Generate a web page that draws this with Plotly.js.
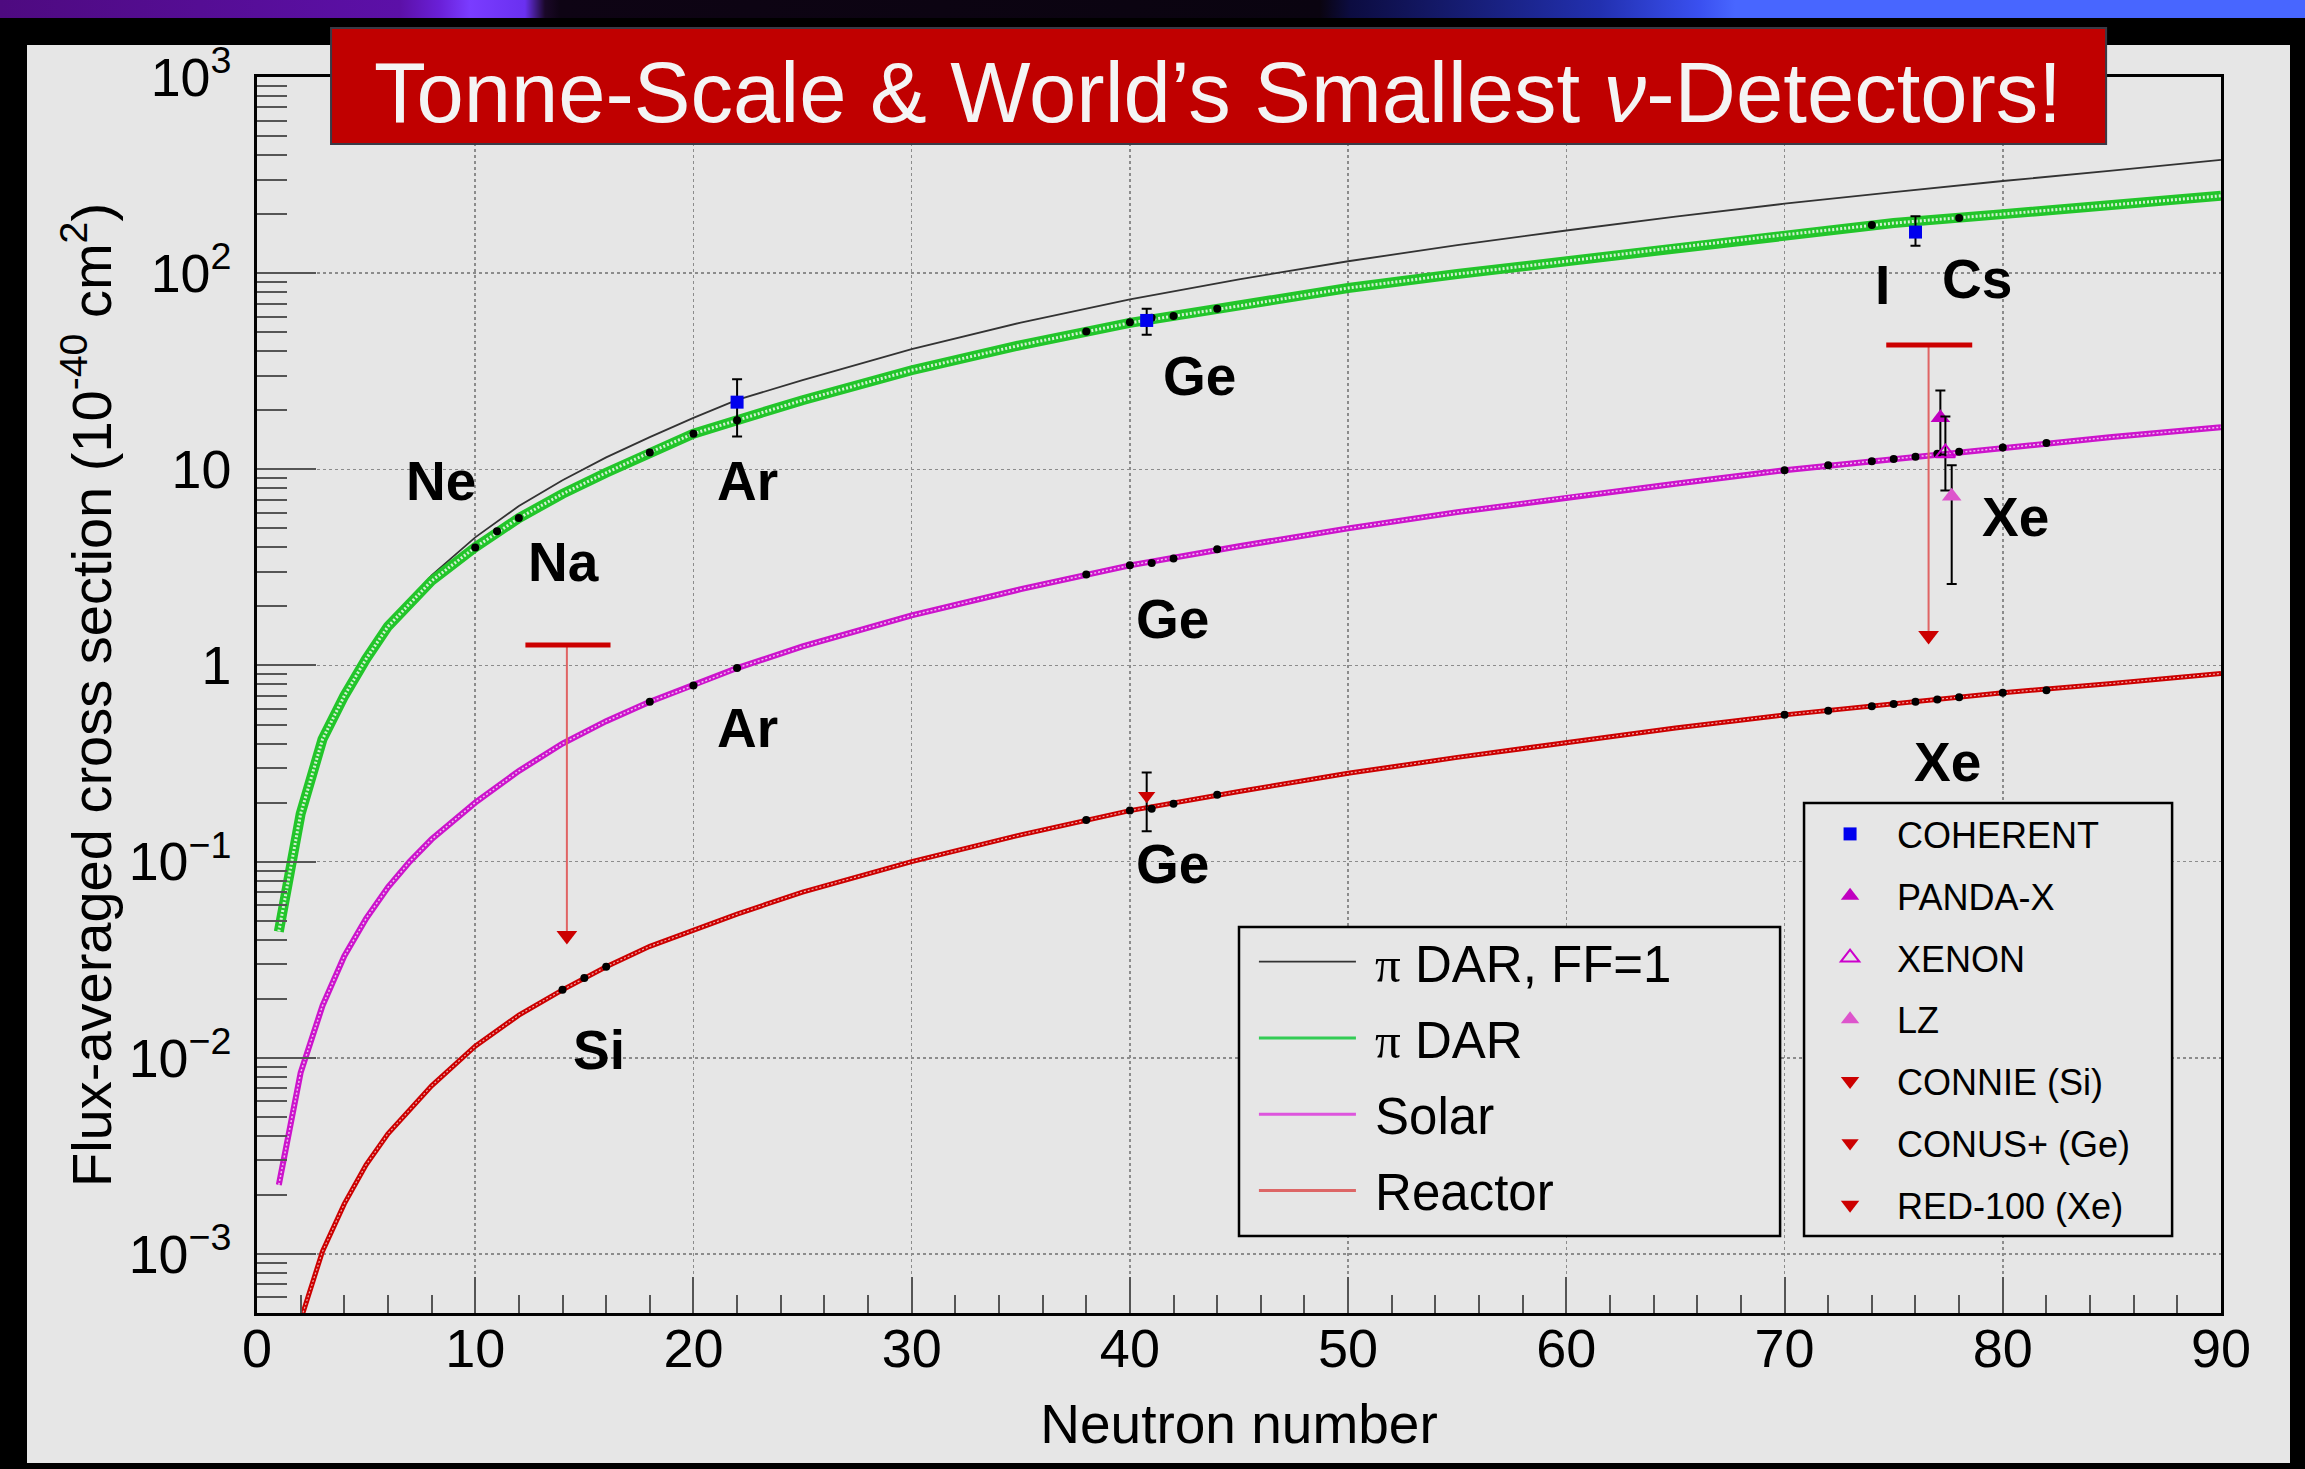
<!DOCTYPE html>
<html>
<head>
<meta charset="utf-8">
<script src="https://cdn.plot.ly/plotly-3.0.1.min.js"></script>
<style>
html,body{margin:0;padding:0;background:#000;}
body{width:2305px;height:1469px;overflow:hidden;position:relative;}
#band{position:absolute;left:0;top:0;width:2305px;height:18px;background:linear-gradient(to right,#4e0a80 0px,#5c10a8 400px,#6a20d8 440px,#7a3cff 470px,#6a30f0 525px,#1a0828 545px,#0e0414 560px,#0a0410 1320px,#0c0c40 1350px,#2230b0 1600px,#3a50f0 1700px,#4866ff 1735px,#4866ff 2305px);}
#panel{position:absolute;left:27px;top:45px;width:2263px;height:1418px;background:#e6e6e6;}
#chart{position:absolute;left:0;top:0;width:2305px;height:1469px;}
</style>
</head>
<body>
<div id="band"></div>
<div id="panel"></div>
<div id="chart"></div>
<script>
// ---------------- data ----------------
const nFF1 = [1,2,3,4,5,6,8,10,12,14,16,18,20,22,25,30,35,40,45,50,55,60,65,70,75,80,85,90];
const sigFF1 = [0.046,0.18,0.41,0.72,1.12,1.62,2.88,4.5,6.5,8.8,11.5,14.6,18.3,22.6,28.5,41,56,73.5,93,115,139,165,194,226,259,295,333,378];

const nDAR = [1,2,3,4,5,6,8,10,12,14,16,18,20,22,25,30,35,40,45,50,55,60,65,70,75,80,85,90];
const sigDAR = [0.044,0.175,0.42,0.70,1.08,1.58,2.7,4.0,5.64,7.5,9.6,12.2,15.2,17.8,22.5,32,43,55.8,68,84,99,115,135,157,180,200,222,248];

const nSolar = [1,2,3,4,5,6,7,8,10,12,14,16,18,20,22,25,30,35,40,45,50,55,60,65,70,75,80,85,90];
const sigSolar = [0.00225,0.0084,0.0184,0.033,0.0513,0.074,0.1,0.13,0.2,0.29,0.40,0.52,0.654,0.79,0.97,1.25,1.8,2.45,3.24,4.05,5.0,6.05,7.2,8.45,9.9,11.3,12.9,14.6,16.4];

const nReactor = [2,3,4,5,6,8,10,12,14,16,18,20,22,25,30,35,40,45,50,55,60,65,70,75,80,85,90];
const sigReactor = [0.00046,0.00103,0.0018,0.00285,0.0041,0.0072,0.01146,0.0165,0.0222,0.0291,0.037,0.0448,0.054,0.07,0.1,0.137,0.182,0.228,0.282,0.34,0.405,0.48,0.56,0.637,0.726,0.81,0.91];

// isotope points on the curves
const isoDarN = [10,11,12,18,20,22,38,40,41,42,44,74,78];
const isoDarY = [4.0,4.83,5.64,12.2,15.2,17.8,50.4,56.2,59.2,60.5,65.8,176,191];
const isoSolarN = [18,20,22,38,40,41,42,44,70,72,74,75,76,77,78,80,82];
const isoSolarY = [0.654,0.79,0.97,2.91,3.24,3.33,3.51,3.91,9.9,10.5,11.0,11.3,11.6,12.0,12.3,12.9,13.6];
const isoReacN = [14,15,16,38,40,41,42,44,70,72,74,75,76,77,78,80,82];
const isoReacY = [0.0222,0.0255,0.0291,0.163,0.182,0.186,0.197,0.219,0.56,0.587,0.62,0.637,0.653,0.671,0.689,0.726,0.748];

// measurements
const cohN = [22,40.77,76];
const cohY = [22.0,57.4,162];
const cohUp = [6.8,8.4,33];
const cohDn = [7.3,8.8,24];

const pandaN = [77.14], pandaY = [18.3], pandaUp = [6.9], pandaDn = [6.4];
const xenonN = [77.37], xenonY = [12.1], xenonUp = [6.5], xenonDn = [4.3];
const lzN = [77.66], lzY = [7.3], lzUp = [3.2], lzDn = [4.7];
const conusN = [40.77], conusY = [0.217], conusUp = [0.068], conusDn = [0.074];

// upper limits: CONNIE (Si), RED-100 (Xe)
const limN = [14.2, 76.6];
const limLo = [12.3, 74.66];
const limHi = [16.2, 78.6];
const limVal = [1.27, 43];
const limTip = [0.042, 1.42];

// element labels
const labels = ['Ne','Na','Ar','Ar','Ge','Ge','Ge','I','Cs','Xe','Xe','Si'];
const labelN = [8.45,14.06,22.48,22.48,43.2,41.95,41.97,74.5,78.8,80.59,77.46,15.66];
const labelY = [8.76,3.36,8.76,0.482,29.8,1.73,0.0969,86.9,92.9,5.71,0.321,0.011];

// ---------------- traces ----------------
const FONT = 'Liberation Sans, Arial, Helvetica, sans-serif';
const PI = '<span style="font-family:Liberation Serif, Times New Roman, serif">π</span>';
const SP = '\u00a0';

const traces = [];
// legend entries (thin lines, drawn first so the bands cover them)
traces.push({x:nFF1, y:sigFF1, mode:'lines', name:SP+PI+' DAR, FF=1', legend:'legend', legendgroup:'a1',
  line:{color:'#333333', width:1.8}});
traces.push({x:nDAR, y:sigDAR, mode:'lines', name:SP+PI+' DAR', legend:'legend', legendgroup:'a2',
  line:{color:'#33cc55', width:3}});
traces.push({x:nSolar, y:sigSolar, mode:'lines', name:SP+'Solar', legend:'legend', legendgroup:'a3',
  line:{color:'#dd55dd', width:3}});
traces.push({x:nReactor, y:sigReactor, mode:'lines', name:SP+'Reactor', legend:'legend', legendgroup:'a4',
  line:{color:'#dd6666', width:3}});

// bands
traces.push({x:nDAR, y:sigDAR, mode:'lines', showlegend:false, legend:'legend', legendgroup:'a2',
  line:{color:'#22c52a', width:10}});
traces.push({x:nDAR, y:sigDAR, mode:'lines', showlegend:false, legend:'legend', legendgroup:'a2',
  line:{color:'#d2f2d2', width:3, dash:'2px,2px'}});
traces.push({x:nSolar, y:sigSolar, mode:'lines', showlegend:false, legend:'legend', legendgroup:'a3',
  line:{color:'#cc14cc', width:6}});
traces.push({x:nSolar, y:sigSolar, mode:'lines', showlegend:false, legend:'legend', legendgroup:'a3',
  line:{color:'#f0bcf0', width:1.5, dash:'2px,2px'}});
traces.push({x:nReactor, y:sigReactor, mode:'lines', showlegend:false, legend:'legend', legendgroup:'a4',
  line:{color:'#cc0000', width:5}});
traces.push({x:nReactor, y:sigReactor, mode:'lines', showlegend:false, legend:'legend', legendgroup:'a4',
  line:{color:'#eeaaaa', width:1.2, dash:'2px,2px'}});

[[isoDarN,isoDarY],[isoSolarN,isoSolarY],[isoReacN,isoReacY]].forEach(function(p){
  traces.push({x:p[0], y:p[1], mode:'markers', showlegend:false, legend:'legend', legendgroup:'a4',
    marker:{color:'#000', size:8}});
});

// upper-limit bars and stems
const barX = [], barY = [], stemX = [], stemY = [];
limN.forEach(function(n,i){
  barX.push(limLo[i], limHi[i], null); barY.push(limVal[i], limVal[i], null);
  stemX.push(n, n, null); stemY.push(limVal[i], limTip[i], null);
});
traces.push({x:stemX, y:stemY, mode:'lines', showlegend:false, legend:'legend2', legendgroup:'b5',
  line:{color:'#e06464', width:2}});
traces.push({x:barX, y:barY, mode:'lines', showlegend:false, legend:'legend2', legendgroup:'b5',
  line:{color:'#cc0000', width:5}});

function err(up, dn){
  return {type:'data', symmetric:false, array:up, arrayminus:dn, color:'#000', thickness:2, width:5};
}
traces.push({x:cohN, y:cohY, mode:'markers', name:'COHERENT', legend:'legend2', legendgroup:'b1',
  marker:{symbol:'square', color:'#0000ee', size:13}, error_y:err(cohUp, cohDn)});
traces.push({x:pandaN, y:pandaY, mode:'markers', name:'PANDA-X', legend:'legend2', legendgroup:'b2',
  marker:{symbol:'triangle-up', color:'#c000c0', size:17}, error_y:err(pandaUp, pandaDn)});
traces.push({x:xenonN, y:xenonY, mode:'markers', name:'XENON', legend:'legend2', legendgroup:'b3',
  marker:{symbol:'triangle-up-open', color:'#cc00cc', size:17, line:{width:2, color:'#cc00cc'}}, error_y:err(xenonUp, xenonDn)});
traces.push({x:lzN, y:lzY, mode:'markers', name:'LZ', legend:'legend2', legendgroup:'b4',
  marker:{symbol:'triangle-up', color:'#dd55cc', size:17}, error_y:err(lzUp, lzDn)});
traces.push({x:[limN[0]], y:[limTip[0]], mode:'markers', name:'CONNIE (Si)', legend:'legend2', legendgroup:'b5',
  marker:{symbol:'triangle-down', color:'#cc0000', size:18}});
traces.push({x:conusN, y:conusY, mode:'markers', name:'CONUS+ (Ge)', legend:'legend2', legendgroup:'b6',
  marker:{symbol:'triangle-down', color:'#cc0000', size:15}, error_y:err(conusUp, conusDn)});
traces.push({x:[limN[1]], y:[limTip[1]], mode:'markers', name:'RED-100 (Xe)', legend:'legend2', legendgroup:'b7',
  marker:{symbol:'triangle-down', color:'#cc0000', size:18}});

// ---------------- layout ----------------
const annotations = labels.map(function(t,i){
  return {x:labelN[i], y:Math.log10(labelY[i]), xref:'x', yref:'y', text:'<b>'+t+'</b>', showarrow:false,
    xanchor:'center', yanchor:'middle', font:{family:FONT, size:55, color:'#000'}};
});

const shapes = [
  // title box
  {type:'rect', xref:'paper', yref:'paper', x0:0.0377, x1:0.9415, y0:0.9458, y1:1.0396, layer:'above',
   fillcolor:'#c00000', line:{color:'#3a3a46', width:2}},
  // legend frames
  {type:'rect', xref:'paper', yref:'paper', x0:0.5000, x1:0.7755, y0:0.0623, y1:0.3123, layer:'above',
   fillcolor:'#e6e6e6', line:{color:'#000', width:2.5}},
  {type:'rect', xref:'paper', yref:'paper', x0:0.7877, x1:0.9751, y0:0.0623, y1:0.4126, layer:'above',
   fillcolor:'#e6e6e6', line:{color:'#000', width:2.5}}
];

const layout = {
  width:2305, height:1469,
  paper_bgcolor:'rgba(0,0,0,0)', plot_bgcolor:'#e6e6e6',
  margin:{l:257, r:84, t:77, b:156, pad:0},
  font:{family:FONT, color:'#000'},
  title:{text:'Tonne-Scale &amp; World’s Smallest <i>ν</i>-Detectors!', font:{family:FONT, size:85, color:'#f4f4f4'},
    xref:'container', x:0.5284, xanchor:'center', yref:'container', y:0.9374, yanchor:'middle'},
  xaxis:{range:[0,90], tick0:0, dtick:10, ticks:'inside', ticklen:36, tickwidth:2, tickcolor:'#555',
    minor:{dtick:2, ticks:'inside', ticklen:18, tickwidth:2, tickcolor:'#555', showgrid:false},
    showgrid:true, gridcolor:'#8c8c8c', griddash:'dot', gridwidth:1.5,
    showline:true, linecolor:'#000', linewidth:3, mirror:true, zeroline:false,
    tickfont:{family:FONT, size:54, color:'#000'}, ticklabelstandoff:-14,
    title:{text:'Neutron number', font:{family:FONT, size:55, color:'#000'}, standoff:28}},
  yaxis:{type:'log', range:[Math.log10(5e-4), 3], dtick:1, exponentformat:'power',
    ticks:'inside', ticklen:59, tickwidth:2, tickcolor:'#555',
    minor:{dtick:'D1', ticks:'inside', ticklen:30, tickwidth:2, tickcolor:'#555', showgrid:false},
    showgrid:true, gridcolor:'#8c8c8c', griddash:'dot', gridwidth:1.5,
    showline:true, linecolor:'#000', linewidth:3, mirror:true, zeroline:false,
    tickfont:{family:FONT, size:43, color:'#000'}, ticklabelstandoff:14,
    title:{text:'Flux-averaged cross section (10<sup>-40</sup> cm<sup>2</sup>)', font:{family:FONT, size:56, color:'#000'}, standoff:0}},
  legend:{x:0.5076, y:0.3163, xanchor:'left', yanchor:'top', bgcolor:'rgba(0,0,0,0)', borderwidth:0,
    font:{family:FONT, size:51, color:'#000'}, itemwidth:97, tracegroupgap:7, traceorder:'grouped'},
  legend2:{x:0.7872, y:0.4118, xanchor:'left', yanchor:'top', bgcolor:'rgba(0,0,0,0)', borderwidth:0,
    font:{family:FONT, size:36, color:'#000'}, itemwidth:84, tracegroupgap:12, traceorder:'grouped'},
  shapes:shapes,
  annotations:annotations
};

Plotly.newPlot('chart', traces, layout, {displayModeBar:false, staticPlot:true});
</script>
</body>
</html>
